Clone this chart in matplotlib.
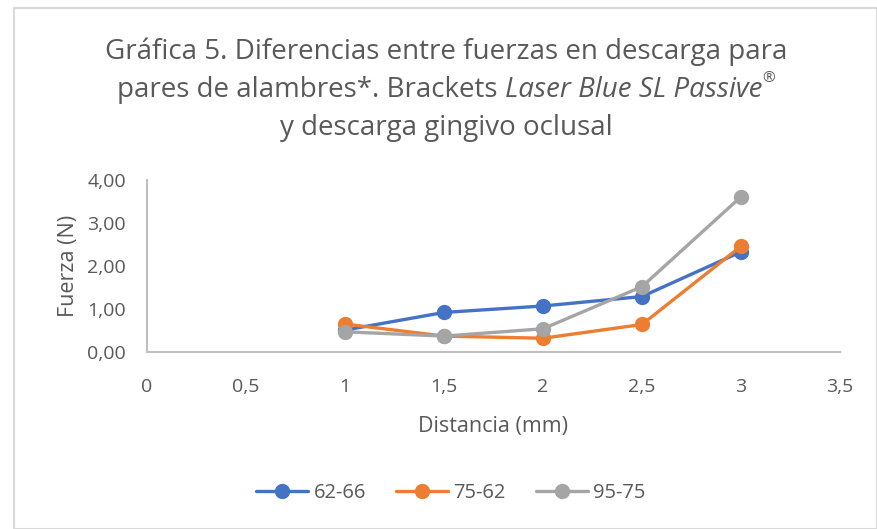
import matplotlib
matplotlib.use("Agg")
import matplotlib.pyplot as plt
from matplotlib.patches import Rectangle
from matplotlib.ticker import FuncFormatter, MultipleLocator

distancia = [1.0, 1.5, 2.0, 2.5, 3.0]
serie_62_66 = [0.51, 0.92, 1.07, 1.29, 2.33]
serie_75_62 = [0.65, 0.37, 0.32, 0.64, 2.46]
serie_95_75 = [0.47, 0.37, 0.54, 1.52, 3.61]
nombres = ["62-66", "75-62", "95-75"]
colores = ["#4472C4", "#ED7D31", "#A5A5A5"]

TXT = "#595959"
FONT = ["Open Sans", "DejaVu Sans"]
plt.rcParams["font.family"] = FONT

W, H = 877, 529
fig = plt.figure(figsize=(W / 100, H / 100), dpi=100)
fig.patch.set_facecolor("white")

# outer chart border
fig.add_artist(Rectangle((14 / W, 0.0), (W - 14) / W, (H - 8) / H,
                         transform=fig.transFigure, fill=False,
                         edgecolor="#D9D9D9", linewidth=1.5))

ax = fig.add_axes([147 / W, (H - 352) / H, (840 - 147) / W, (352 - 180) / H])
for serie, nombre, color in zip([serie_62_66, serie_75_62, serie_95_75], nombres, colores):
    ax.plot(distancia, serie, color=color, linewidth=2.4, marker="o",
            markersize=10, label=nombre, solid_capstyle="round")

ax.set_xlim(0, 3.5)
ax.set_ylim(0, 4)
ax.xaxis.set_major_locator(MultipleLocator(0.5))
ax.yaxis.set_major_locator(MultipleLocator(1))
ax.xaxis.set_major_formatter(FuncFormatter(lambda v, p: f"{v:g}".replace(".", ",")))
ax.yaxis.set_major_formatter(FuncFormatter(lambda v, p: f"{v:.2f}".replace(".", ",")))
ax.tick_params(length=0, labelsize=14, colors=TXT)
ax.tick_params(axis="y", pad=15)
ax.tick_params(axis="x", pad=19)
for s in ["top", "right"]:
    ax.spines[s].set_visible(False)
for s in ["left", "bottom"]:
    ax.spines[s].set_color("#BFBFBF")
    ax.spines[s].set_linewidth(1.5)
ax.set_xlabel("Distancia (mm)", fontsize=15.5, color=TXT, labelpad=14)
ax.set_ylabel("Fuerza (N)", fontsize=15.5, color=TXT, labelpad=6)

leg = fig.legend(loc="center", bbox_to_anchor=(451 / W, 1 - 493 / H), ncol=3,
                 frameon=False, fontsize=14.5, handlelength=2.6,
                 columnspacing=1.5, handletextpad=0.25)
for t in leg.get_texts():
    t.set_color(TXT)

# title with mixed styles, built piece by piece and centered
fig.canvas.draw()
rend = fig.canvas.get_renderer()
tsize = 20.0
cx = 446 / W


def linea(partes, yc):
    objs = []
    for texto, estilo, dy, size in partes:
        objs.append(fig.text(0, yc + dy, texto, fontsize=size, style=estilo,
                             color=TXT, ha="left", va="center"))
    widths = [o.get_window_extent(rend).width / W for o in objs]
    x = cx - sum(widths) / 2
    for o, w in zip(objs, widths):
        o.set_x(x)
        x += w


linea([("Gráfica 5. Diferencias entre fuerzas en descarga para", "normal", 0, tsize)], 1 - 52 / H)
linea([("pares de alambres*. Brackets ", "normal", 0, tsize),
       ("Laser Blue SL Passive", "italic", 0, tsize),
       ("®", "italic", 0.022, tsize * 0.55)], 1 - 90 / H)
linea([("y descarga gingivo oclusal", "normal", 0, tsize)], 1 - 128 / H)

fig.savefig("out.png", dpi=100)
